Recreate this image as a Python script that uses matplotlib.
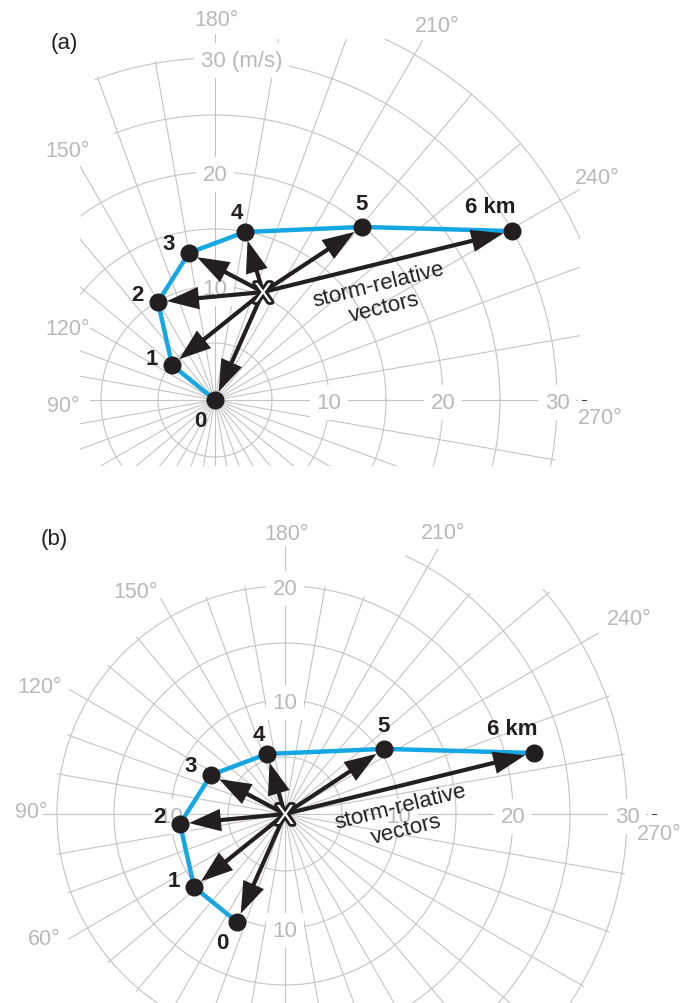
import numpy as np
import matplotlib.pyplot as plt
from matplotlib.patches import Polygon, FancyArrowPatch
import matplotlib.patheffects as pe

plt.rcParams['font.family'] = ['Liberation Sans', 'DejaVu Sans']

# 各高度的风 (m/s), u 向东, v 向北
heights = ['0', '1', '2', '3', '4', '5', '6 km']
wind_u = [0.0, -3.77, -5.0, -2.28, 2.63, 12.9, 26.05]
wind_v = [0.0, 3.07, 8.6, 12.9, 14.74, 15.18, 14.82]
# 风暴移动 (X)
storm_u, storm_v = 4.21, 9.47

# 极坐标网格
rings_a = [5, 10, 15, 20, 25, 30, 35]
rings_b = [5, 10, 15, 20, 25, 30]
dirs_a = [90, 120, 150, 180, 210, 240, 270]
dirs_b = [60, 90, 120, 150, 180, 210, 240, 270]
ring_labels_a = [(0, 10, '10'), (0, 20, '20'), (10, 0, '10'), (20, 0, '20'), (30, 0, '30')]
ring_labels_b = [(0, 10, '10'), (0, 20, '20'), (10, 0, '10'), (20, 0, '20'),
                 (30, 0, '30'), (0, -10, '10'), (-10, 0, '10')]

S = 11.4          # 像素 / (m/s)
GRID = '#c4c4c4'
GTXT = '#b9b9bd'
INK = '#231f20'
BLUE = '#14a7e4'

fig = plt.figure(figsize=(6.99, 10.04), dpi=100)


def make_ax(top, bottom, cx, cy):
    ax = fig.add_axes([0, 1 - bottom / 1004, 1, (bottom - top) / 1004])
    ax.set_xlim(-cx / S, (699 - cx) / S)
    ax.set_ylim((cy - bottom) / S, (cy - top) / S)
    ax.axis('off')
    return ax


def dvec(d, r):
    # 风向 d (度) -> 图上的向量
    return -r * np.sin(np.radians(d)), -r * np.cos(np.radians(d))


def px(pts, cx, cy):
    return [((x - cx) / S, (cy - y) / S) for x, y in pts]


def ring_label(ax, x, y, s, ha='center'):
    ax.annotate(s, (x, y), xytext=(0, -8), textcoords='offset pixels',
                ha=ha, va='baseline', fontsize=16, color=GTXT, zorder=2,
                bbox=dict(boxstyle='square,pad=0.3', fc='white', ec='none'))


def draw_grid(ax, rings, clip_xy, lab_dirs, lab_end, lab_pos, ring_labels):
    clip = Polygon(clip_xy, closed=True, transform=ax.transData)
    t = np.linspace(0, 2 * np.pi, 721)
    for r in rings:
        ln, = ax.plot(r * np.cos(t), r * np.sin(t), color=GRID, lw=0.8, zorder=1)
        ln.set_clip_path(clip)
    for d in range(0, 360, 10):
        if d in lab_dirs:
            i = lab_dirs.index(d)
            x, y = dvec(d, lab_end[i])
            ax.plot([0, x], [0, y], color=GRID, lw=0.8, zorder=1)
            ax.annotate(f'{d}°', lab_pos[i], xytext=(0, -8), textcoords='offset pixels',
                        ha='center', va='baseline', fontsize=15.5, color=GTXT)
        else:
            x, y = dvec(d, 45)
            ln, = ax.plot([0, x], [0, y], color=GRID, lw=0.8, zorder=1)
            ln.set_clip_path(clip)
    for x, y, s in ring_labels:
        ring_label(ax, x, y, s)
    # 270° 线末端的小短线
    ax.plot([32.2, 32.5], [0, 0], color='#444444', lw=0.8, zorder=1)


def draw_hodo(ax, us, vs, su, sv):
    ax.plot(us, vs, color=BLUE, lw=3.2, solid_joinstyle='round', zorder=3)
    for u, v in zip(us, vs):
        arr = FancyArrowPatch((su, sv), (u, v), arrowstyle='-|>,head_length=17,head_width=6',
                              mutation_scale=1, lw=3, color=INK, shrinkA=0, shrinkB=6.5,
                              joinstyle='miter', capstyle='butt', zorder=4)
        ax.add_patch(arr)
    ax.plot(us, vs, 'o', ms=12, color=INK, zorder=5)
    offs = [(-15, -18), (-20, 9), (-21, 10), (-20, 12), (-8, 22), (-1, 26), (-22, 27)]
    for u, v, s, (ox, oy) in zip(us, vs, heights, offs):
        ax.annotate(s, (u, v), xytext=(ox, oy - 8), textcoords='offset pixels',
                    ha='center', va='baseline', fontsize=16, fontweight='bold',
                    color=INK, zorder=6)
    ax.annotate('X', (su, sv), xytext=(0, -10), textcoords='offset pixels',
                ha='center', va='baseline', fontsize=20, color='white', zorder=7,
                path_effects=[pe.Stroke(linewidth=4, foreground=INK), pe.Normal()])
    ax.text(su + 10.4, sv - 0.3, 'storm-relative\nvectors', rotation=14,
            rotation_mode='anchor', ha='center', va='center', multialignment='center',
            fontsize=16, color=INK, linespacing=1.15, zorder=6)


# (a) 地面相对的风矢端图
ax_a = make_ax(0, 500, 215, 401)
clip_a = px([(80, 467), (80, 218), (114, 135), (93, 77)], 215, 401)
clip_a += [dvec(d, 30.2) for d in np.arange(160, 191, 2)]
clip_a += px([(275, 40)], 215, 401)
clip_a += [dvec(d, 35.1) for d in np.linspace(205.5, 245.9, 20)]
clip_a += px([(580, 237), (580, 401), (553, 467)], 215, 401)
draw_grid(ax_a, rings_a, clip_a, dirs_a,
          [11.0, 12.6, 23.6, 32.1, 36.4, 36.9, 31.75],
          [(-13.3, -0.3), (-12.9, 6.5), (-12.9, 22.1), (0.18, 33.6),
           (19.5, 33.1), (33.5, 19.7), (33.8, -1.3)],
          ring_labels_a)
ring_label(ax_a, -1.25, 30, '30 (m/s)', ha='left')
draw_hodo(ax_a, wind_u, wind_v, storm_u, storm_v)

# (b) 以风暴移动为原点
ax_b = make_ax(500, 1004, 285, 815)
clip_b = [dvec(d, 20.3) for d in np.arange(0, 205, 2)]
clip_b += [dvec(d, 25.3) for d in np.arange(205, 229, 1)]
clip_b += [dvec(d, 30.3) for d in np.arange(229, 361, 2)]
draw_grid(ax_b, rings_b, clip_b, dirs_b,
          [21.9, 21.2, 21.8, 21.8, 23.4, 26.8, 31.7, 31.75],
          [(-21.1, -10.7), (-22.3, 0.44), (-21.5, 11.4), (-13.1, 19.7),
           (0.18, 24.8), (13.9, 24.9), (30.2, 17.4), (32.8, -1.5)],
          ring_labels_b)
rel_u = [u - storm_u for u in wind_u]
rel_v = [v - storm_v for v in wind_v]
draw_hodo(ax_b, rel_u, rel_v, 0.0, 0.0)

fig.text(64 / 699, 1 - 43 / 1004, '(a)', fontsize=16, ha='center', va='center', color=INK)
fig.text(54 / 699, 1 - 540 / 1004, '(b)', fontsize=16, ha='center', va='center', color=INK)

fig.savefig('out.png', dpi=100)
